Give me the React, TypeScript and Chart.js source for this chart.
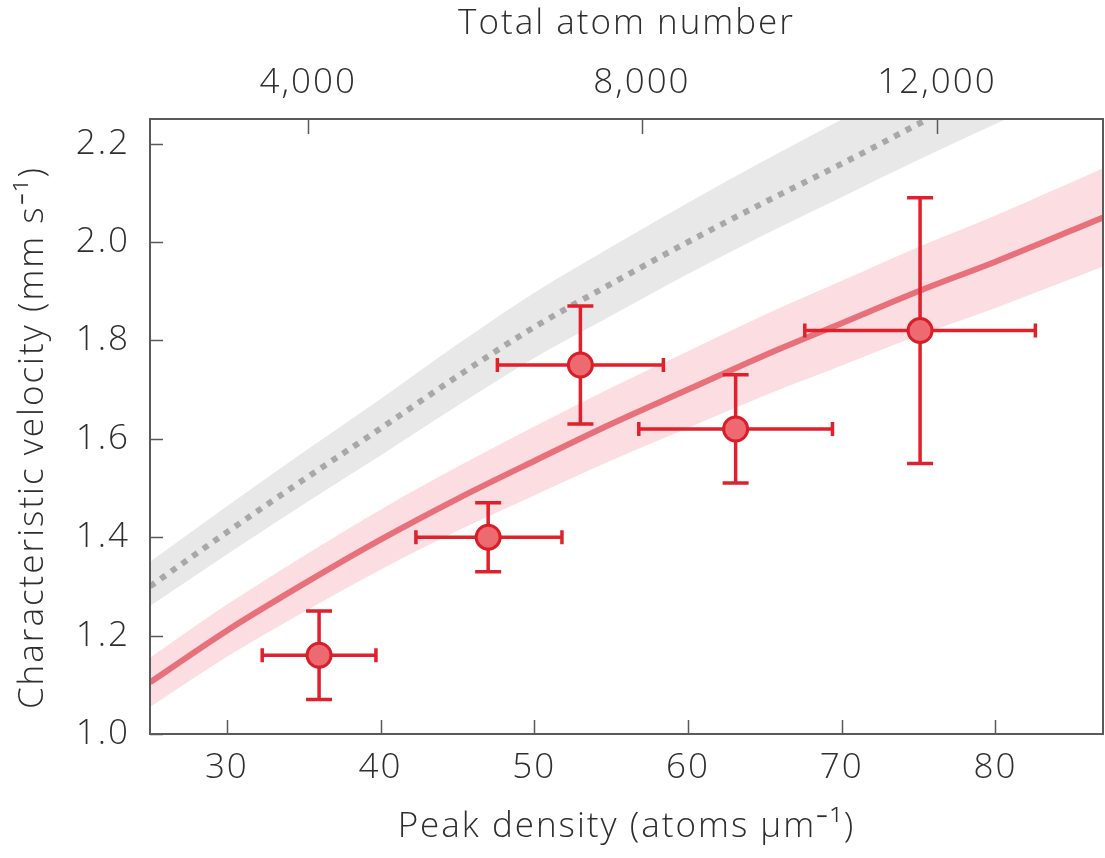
import React, { useEffect, useRef } from "react";
import { Chart, registerables } from "chart.js";

Chart.register(...registerables);

// ---- axis ticks ----
const densityTicks = [30, 40, 50, 60, 70, 80];
const velocityTicks = [1.0, 1.2, 1.4, 1.6, 1.8, 2.0, 2.2];
// top axis: total atom number, placed at the peak density it corresponds to
const atomTickDensity = [35.3, 57.0, 76.2];
const atomTickLabels = ["4,000", "8,000", "12,000"];

// ---- measurements ----
const peakDensity = [36.0, 47.0, 53.0, 63.1, 75.1];
const densityLow = [32.3, 42.3, 47.6, 56.8, 67.6];
const densityHigh = [39.7, 51.8, 58.4, 69.4, 82.6];
const velocity = [1.16, 1.4, 1.75, 1.62, 1.82];
const velocityLow = [1.07, 1.33, 1.63, 1.51, 1.55];
const velocityHigh = [1.25, 1.47, 1.87, 1.73, 2.09];

// ---- red theory curve with band ----
const redX = [25, 30, 35, 40, 45, 50, 55, 60, 65, 70, 75, 80, 87];
const redY = [1.105, 1.21, 1.305, 1.395, 1.478, 1.555, 1.63, 1.7, 1.77, 1.835, 1.9, 1.96, 2.05];
const redUpper = [1.155, 1.263, 1.362, 1.456, 1.543, 1.625, 1.704, 1.778, 1.852, 1.921, 1.99, 2.054, 2.15];
const redLower = [1.055, 1.157, 1.248, 1.334, 1.413, 1.485, 1.556, 1.622, 1.688, 1.749, 1.81, 1.866, 1.95];

// ---- grey (dotted) theory curve with band ----
const greyX = [25, 30, 35, 40, 45, 50, 55, 60, 65, 70, 75.3];
const greyY = [1.3, 1.41, 1.517, 1.621, 1.727, 1.827, 1.915, 2.0, 2.081, 2.159, 2.245];
const greyBandX = [25, 30, 35, 40, 45, 50, 55, 60, 65, 70, 75, 80, 85];
const greyUpper = [1.35, 1.463, 1.573, 1.681, 1.792, 1.897, 1.99, 2.08, 2.166, 2.249, 2.332, 2.41, 2.48];
const greyLower = [1.26, 1.365, 1.467, 1.566, 1.667, 1.764, 1.85, 1.935, 2.015, 2.091, 2.167, 2.24, 2.31];

const FONT_FAMILY = "'Open Sans', 'DejaVu Sans', sans-serif";
const FONT_SIZE = 35;
const TEXT = "#2e2e2e";
const AXIS = "#5a5a5a";
const ERR = "#e0202b";

const zip = (xs: number[], ys: number[]) => xs.map((x, i) => ({ x, y: ys[i] }));

const decor = {
  id: "decor",
  beforeDraw(chart: any) {
    try {
      chart.ctx.letterSpacing = "2px";
    } catch (e) {}
  },
  beforeDatasetDraw(chart: any, args: any) {
    if (args.index !== 0) return;
    const ctx = chart.ctx;
    const xs = chart.scales.x;
    const ys = chart.scales.y;
    ctx.save();
    ctx.strokeStyle = ERR;
    ctx.lineWidth = 3.5;
    ctx.lineCap = "butt";
    for (let i = 0; i < peakDensity.length; i++) {
      const cx = xs.getPixelForValue(peakDensity[i]);
      const cy = ys.getPixelForValue(velocity[i]);
      const xl = xs.getPixelForValue(densityLow[i]);
      const xh = xs.getPixelForValue(densityHigh[i]);
      const yl = ys.getPixelForValue(velocityLow[i]);
      const yh = ys.getPixelForValue(velocityHigh[i]);
      ctx.beginPath();
      ctx.moveTo(xl, cy);
      ctx.lineTo(xh, cy);
      ctx.moveTo(xl, cy - 7);
      ctx.lineTo(xl, cy + 7);
      ctx.moveTo(xh, cy - 7);
      ctx.lineTo(xh, cy + 7);
      ctx.moveTo(cx, yl);
      ctx.lineTo(cx, yh);
      ctx.moveTo(cx - 13, yl);
      ctx.lineTo(cx + 13, yl);
      ctx.moveTo(cx - 13, yh);
      ctx.lineTo(cx + 13, yh);
      ctx.stroke();
    }
    ctx.restore();
  },
  afterDraw(chart: any) {
    const ctx = chart.ctx;
    const a = chart.chartArea;
    const xs = chart.scales.x;
    const x2 = chart.scales.x2;
    const ys = chart.scales.y;
    ctx.save();
    ctx.strokeStyle = AXIS;
    ctx.lineWidth = 1.5;
    ctx.beginPath();
    xs.ticks.forEach((t: any) => {
      const p = Math.round(xs.getPixelForValue(t.value)) + 0.5;
      ctx.moveTo(p, a.bottom);
      ctx.lineTo(p, a.bottom - 14);
    });
    x2.ticks.forEach((t: any) => {
      const p = Math.round(x2.getPixelForValue(t.value)) + 0.5;
      ctx.moveTo(p, a.top);
      ctx.lineTo(p, a.top + 15);
    });
    ys.ticks.forEach((t: any) => {
      const p = Math.round(ys.getPixelForValue(t.value)) + 0.5;
      ctx.moveTo(a.left, p);
      ctx.lineTo(a.left + 13, p);
    });
    ctx.stroke();
    ctx.lineWidth = 2;
    ctx.strokeRect(a.left, a.top, a.right - a.left, a.bottom - a.top);
    ctx.restore();
  },
};

const fitH = (h: number) => (s: any) => {
  s.height = h;
  s.paddingLeft = 0;
  s.paddingRight = 0;
};

export default function App() {
  const ref = useRef<HTMLCanvasElement | null>(null);
  useEffect(() => {
    if (!ref.current) return;
    const font = { family: FONT_FAMILY, size: FONT_SIZE, weight: "300" };
    const chart = new Chart(ref.current, {
      type: "scatter",
      data: {
        datasets: [
          {
            label: "data",
            data: zip(peakDensity, velocity),
            pointRadius: 12,
            pointBackgroundColor: "#ec6a70",
            pointBorderColor: "#d81f29",
            pointBorderWidth: 3,
            showLine: false,
          },
          {
            label: "red theory",
            data: zip(redX, redY),
            showLine: true,
            borderColor: "#e8707a",
            borderWidth: 6,
            pointRadius: 0,
            cubicInterpolationMode: "monotone",
          },
          {
            label: "grey theory",
            data: zip(greyX, greyY),
            showLine: true,
            borderColor: "#a8a8a8",
            borderWidth: 6,
            borderDash: [6, 7],
            borderCapStyle: "butt",
            pointRadius: 0,
            cubicInterpolationMode: "monotone",
          },
          {
            label: "red band upper",
            data: zip(redX, redUpper),
            showLine: true,
            borderWidth: 0,
            borderColor: "rgba(0,0,0,0)",
            pointRadius: 0,
            fill: "+1",
            backgroundColor: "#fcdde1",
            cubicInterpolationMode: "monotone",
          },
          {
            label: "red band lower",
            data: zip(redX, redLower),
            showLine: true,
            borderWidth: 0,
            borderColor: "rgba(0,0,0,0)",
            pointRadius: 0,
            cubicInterpolationMode: "monotone",
          },
          {
            label: "grey band upper",
            data: zip(greyBandX, greyUpper),
            showLine: true,
            borderWidth: 0,
            borderColor: "rgba(0,0,0,0)",
            pointRadius: 0,
            fill: "+1",
            backgroundColor: "#e8e8e8",
            cubicInterpolationMode: "monotone",
          },
          {
            label: "grey band lower",
            data: zip(greyBandX, greyLower),
            showLine: true,
            borderWidth: 0,
            borderColor: "rgba(0,0,0,0)",
            pointRadius: 0,
            cubicInterpolationMode: "monotone",
          },
        ],
      },
      options: {
        animation: false,
        responsive: false,
        maintainAspectRatio: false,
        layout: { autoPadding: false, padding: { left: 0, right: 2, top: 0, bottom: 0 } },
        plugins: {
          legend: { display: false },
          tooltip: { enabled: false },
        },
        scales: {
          x: {
            type: "linear",
            position: "bottom",
            min: 25,
            max: 87,
            afterBuildTicks: (s: any) => {
              s.ticks = densityTicks.map((v) => ({ value: v }));
            },
            afterFit: fitH(124),
            grid: { display: false, drawTicks: false },
            border: { display: false },
            ticks: {
              font,
              color: TEXT,
              padding: 13,
              autoSkip: false,
              maxRotation: 0,
              callback: (v: any) => String(v),
            },
            title: {
              display: true,
              text: "Peak density (atoms μm⁻¹)",
              font,
              color: TEXT,
              padding: { top: 0, bottom: 10 },
            },
          },
          x2: {
            type: "linear",
            position: "top",
            min: 25,
            max: 87,
            afterBuildTicks: (s: any) => {
              s.ticks = atomTickDensity.map((v) => ({ value: v }));
            },
            afterFit: fitH(119),
            grid: { display: false, drawTicks: false },
            border: { display: false },
            ticks: {
              font,
              color: TEXT,
              padding: 15,
              autoSkip: false,
              maxRotation: 0,
              callback: (_v: any, i: number) => atomTickLabels[i],
            },
            title: {
              display: true,
              text: "Total atom number",
              font,
              color: TEXT,
              padding: { top: 3, bottom: 0 },
            },
          },
          y: {
            type: "linear",
            position: "left",
            min: 1.0,
            max: 2.25,
            afterBuildTicks: (s: any) => {
              s.ticks = velocityTicks.map((v) => ({ value: v }));
            },
            afterFit: (s: any) => {
              s.width = 150;
              s.paddingTop = 0;
              s.paddingBottom = 0;
            },
            grid: { display: false, drawTicks: false },
            border: { display: false },
            ticks: {
              font,
              color: TEXT,
              padding: 20,
              autoSkip: false,
              callback: (v: any) => Number(v).toFixed(1),
            },
            title: {
              display: true,
              text: "Characteristic velocity (mm s⁻¹)  ",
              font,
              color: TEXT,
              padding: { top: 12, bottom: 0 },
            },
          },
        },
      },
      plugins: [decor],
    } as any);
    return () => chart.destroy();
  }, []);
  return (
    <div style={{ position: "absolute", left: 0, top: 0, width: 1105, height: 858, background: "#fff" }}>
      <canvas ref={ref} width={1105} height={858} style={{ display: "block" }} />
    </div>
  );
}
